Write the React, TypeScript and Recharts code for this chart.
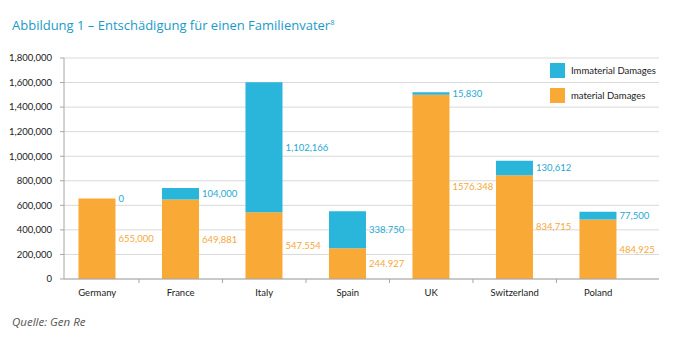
import React from "react";
import { BarChart, Bar, XAxis, YAxis, CartesianGrid, LabelList } from "recharts";

const countries = ["Germany", "France", "Italy", "Spain", "UK", "Switzerland", "Poland"];
// bar heights as drawn in the picture
const materialValues = [655000, 647000, 544000, 251000, 1500000, 846000, 484000];
const immaterialValues = [0, 94000, 1058000, 300000, 21000, 117000, 64000];
// printed labels (kept as printed in the source figure)
const materialLabels = ["655,000", "649,881", "547.554", "244.927", "1576.348", "834,715", "484,925"];
const immaterialLabels = ["0", "104,000", "1,102,166", "338.750", "15,830", "130,612", "77,500"];
const yTicks = [0, 200000, 400000, 600000, 800000, 1000000, 1200000, 1400000, 1600000, 1800000];

const ORANGE = "#F9A935";
const BLUE = "#2AB5DB";
const BLUE_TEXT = "#27A8D6";
const ORANGE_TEXT = "#F7A83A";
const FONT = "Lato, 'Noto Sans', sans-serif";

const data = countries.map((name, i) => ({
  pos: i,
  name,
  material: materialValues[i],
  immaterial: immaterialValues[i],
  materialLabel: materialLabels[i],
  immaterialLabel: immaterialLabels[i],
}));

const legendItems = [
  { label: "Immaterial Damages", color: BLUE },
  { label: "material Damages", color: ORANGE },
];

// x domain chosen so that category bands are ~83.5px and start left of the y axis
const X_DOMAIN: [number, number] = [-0.398, 6.728];
const BAND = 83.5;

function CountryTick(props: any) {
  const { x, y, payload } = props;
  const i = Math.round(payload.value);
  return (
    <g>
      {i > 0 && <line x1={x - BAND / 2} x2={x - BAND / 2} y1={y} y2={y + 4} stroke="#a6a6a6" />}
      <text x={x} y={y + 17} textAnchor="middle" fontSize={9.5} fontFamily={FONT} fill="#1a1a1a">
        {countries[i]}
      </text>
    </g>
  );
}

function labelText(x: number, y: number, color: string, text: string, key?: string) {
  return (
    <text key={key} x={x} y={y} dy="0.35em" fontSize={9.5} fontFamily={FONT} fill={color}>
      {text}
    </text>
  );
}

// material labels; also draws the blue label of a zero-height immaterial segment
function MaterialLabel(props: any) {
  const { x, y, width, height, value, index } = props;
  const row = data[index];
  return (
    <g>
      {labelText(x + width + 3, y + height / 2, ORANGE_TEXT, value, "m")}
      {row && row.immaterial === 0 && labelText(x + width + 3, y, BLUE_TEXT, row.immaterialLabel, "z")}
    </g>
  );
}

function ImmaterialLabel(props: any) {
  const { x, y, width, height, value } = props;
  if (!height) return null;
  return labelText(x + width + 3, y + height / 2, BLUE_TEXT, value);
}

export default function App() {
  return (
    <div style={{ position: "absolute", left: 0, top: 0, width: 674, height: 355, background: "#fff" }}>
      <BarChart width={674} height={355} data={data} margin={{ top: 58, right: 15, bottom: 46, left: 0 }}>
        <CartesianGrid stroke="#d9d9d9" vertical={false} />
        <XAxis
          dataKey="pos"
          type="number"
          domain={X_DOMAIN}
          ticks={[0, 1, 2, 3, 4, 5, 6]}
          interval={0}
          allowDataOverflow
          axisLine={{ stroke: "#a6a6a6" }}
          tickLine={false}
          tickSize={0}
          tickMargin={0}
          tick={<CountryTick />}
          height={30}
        />
        <YAxis
          width={64}
          domain={[0, 1800000]}
          ticks={yTicks}
          interval={0}
          tickFormatter={(v: number) => v.toLocaleString("en-US")}
          axisLine={{ stroke: "#a6a6a6" }}
          tickLine={{ stroke: "#a6a6a6" }}
          tickSize={4}
          tickMargin={8}
          tick={{ fontSize: 9.5, fontFamily: FONT, fill: "#1a1a1a" }}
        />
        <Bar dataKey="material" stackId="a" fill={ORANGE} barSize={37} isAnimationActive={false}>
          <LabelList dataKey="materialLabel" content={<MaterialLabel />} />
        </Bar>
        <Bar dataKey="immaterial" stackId="a" fill={BLUE} barSize={37} isAnimationActive={false}>
          <LabelList dataKey="immaterialLabel" content={<ImmaterialLabel />} />
        </Bar>
      </BarChart>

      <div
        style={{
          position: "absolute",
          left: 12,
          top: 16,
          fontFamily: "'Open Sans', sans-serif",
          fontSize: 13,
          color: "#1B9AC9",
          whiteSpace: "nowrap",
        }}
      >
        Abbildung 1 – Entschädigung für einen Familienvater
        <sup style={{ fontSize: 7.5 }}>8</sup>
      </div>

      <div style={{ position: "absolute", left: 550, top: 58, fontFamily: FONT, fontSize: 9.5, color: "#1a1a1a" }}>
        {legendItems.map((it) => (
          <div key={it.label} style={{ display: "flex", alignItems: "center", height: 25 }}>
            <div style={{ width: 15, height: 15, background: it.color, marginRight: 6 }} />
            <span>{it.label}</span>
          </div>
        ))}
      </div>

      <div
        style={{
          position: "absolute",
          left: 12,
          top: 314,
          fontFamily: "'Open Sans', sans-serif",
          fontStyle: "italic",
          fontSize: 11.5,
          color: "#555",
        }}
      >
        Quelle: Gen Re
      </div>
    </div>
  );
}
